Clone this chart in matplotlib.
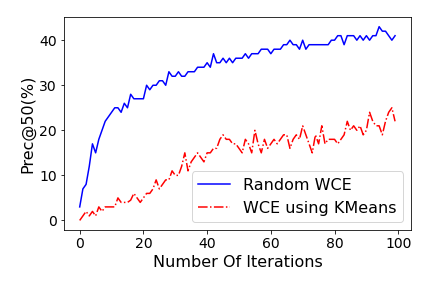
import matplotlib
matplotlib.use("Agg")
import matplotlib.pyplot as plt
import numpy as np

# Precision@50 per iteration
random_wce = [3, 7, 8, 12, 17, 15, 18, 20, 22, 23,
              24, 25, 25, 24, 26, 25, 28, 27, 27, 27,
              27, 30, 29, 30, 30, 31, 31, 30, 33, 32,
              32, 33, 32, 32, 33, 33, 33, 34, 34, 34,
              35, 34, 37, 35, 35, 36, 35, 36, 35, 36,
              36, 36, 37, 36, 37, 37, 37, 38, 38, 38,
              37, 38, 38, 38, 39, 39, 40, 39, 39, 38,
              40, 38, 39, 39, 39, 39, 39, 39, 39, 40,
              40, 41, 41, 39, 41, 41, 41, 40, 41, 40,
              41, 40, 41, 41, 43, 42, 42, 41, 40, 41]

wce_kmeans = [0, 1, 2, 1, 2, 1, 3, 2, 3, 3,
              3, 3, 5, 4, 4, 4, 4.5, 6, 5, 4,
              5, 6, 6, 7, 9, 7, 8, 9, 9, 11,
              10, 10, 12, 15, 11, 13, 14, 15, 14, 13,
              15, 15, 16, 16, 18, 19, 18, 18, 17, 17,
              16, 15, 18, 17, 15, 20, 17, 15, 18, 16,
              17, 18, 17, 18, 19, 19, 16, 18, 19, 18,
              21, 19, 17, 15, 19, 17, 21, 17, 18, 18,
              18, 17, 18, 19, 22, 20, 21, 20, 21, 19,
              20, 24, 22, 21, 21, 19, 22, 24, 25, 22]

iteraciones = np.arange(len(random_wce))

plt.figure(figsize=(6, 4), dpi=72)
plt.plot(iteraciones, random_wce, color='blue', linestyle='-', label="Random WCE")
plt.plot(iteraciones, wce_kmeans, color='red', linestyle='-.', label="WCE using KMeans")
plt.xlabel("Number Of Iterations", fontsize=16)
plt.ylabel("Prec@50(%)", fontsize=16)
plt.xticks(fontsize=14)
plt.yticks(fontsize=14)
plt.legend(loc="lower right", fontsize=16)
plt.subplots_adjust(left=0.148, right=0.951, top=0.941, bottom=0.201)
plt.savefig("out.png", dpi=72)
